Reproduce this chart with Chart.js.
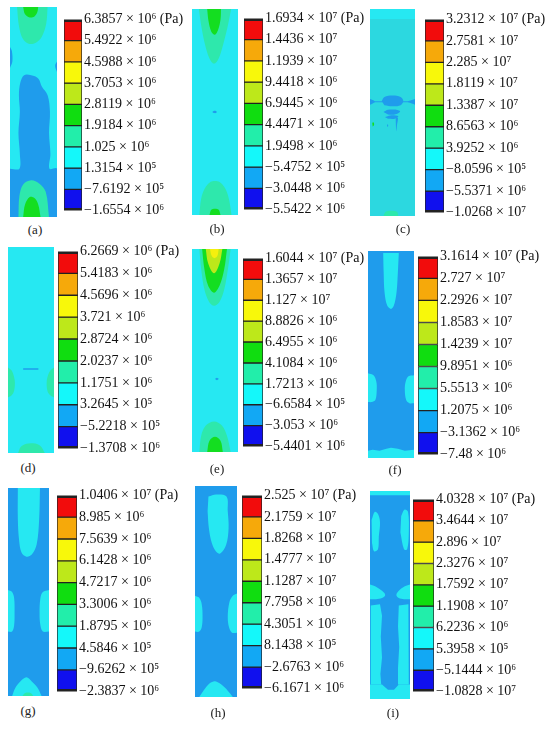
<!DOCTYPE html>
<html>
<head>
<meta charset="utf-8">
<script src="https://cdn.jsdelivr.net/npm/chart.js@4.4.0/dist/chart.umd.min.js"></script>
<style>
  body { margin:0; background:#fff; width:550px; height:729px; position:relative; overflow:hidden;
         font-family:"Liberation Serif","Times New Roman",serif; }
  canvas { position:absolute; }
  .tag { position:absolute; font-size:13px; color:#222; transform:translate(-50%,-50%); }
</style>
</head>
<body>
<script>
// stress levels shown on each colour bar, top to bottom (Pa)
const boundsA = [6.3857e6, 5.4922e6, 4.5988e6, 3.7053e6, 2.8119e6, 1.9184e6, 1.025e6, 1.3154e5, -7.6192e5, -1.6554e6];
const boundsB = [1.6934e7, 1.4436e7, 1.1939e7, 9.4418e6, 6.9445e6, 4.4471e6, 1.9498e6, -5.4752e5, -3.0448e6, -5.5422e6];
const boundsC = [3.2312e7, 2.7581e7, 2.285e7, 1.8119e7, 1.3387e7, 8.6563e6, 3.9252e6, -8.0596e5, -5.5371e6, -1.0268e7];
const boundsD = [6.2669e6, 5.4183e6, 4.5696e6, 3.721e6, 2.8724e6, 2.0237e6, 1.1751e6, 3.2645e5, -5.2218e5, -1.3708e6];
const boundsE = [1.6044e7, 1.3657e7, 1.127e7, 8.8826e6, 6.4955e6, 4.1084e6, 1.7213e6, -6.6584e5, -3.053e6, -5.4401e6];
const boundsF = [3.1614e7, 2.727e7, 2.2926e7, 1.8583e7, 1.4239e7, 9.8951e6, 5.5513e6, 1.2075e6, -3.1362e6, -7.48e6];
const boundsG = [1.0406e7, 8.985e6, 7.5639e6, 6.1428e6, 4.7217e6, 3.3006e6, 1.8795e6, 4.5846e5, -9.6262e5, -2.3837e6];
const boundsH = [2.525e7, 2.1759e7, 1.8268e7, 1.4777e7, 1.1287e7, 7.7958e6, 4.3051e6, 8.1438e5, -2.6763e6, -6.1671e6];
const boundsI = [4.0328e7, 3.4644e7, 2.896e7, 2.3276e7, 1.7592e7, 1.1908e7, 6.2236e6, 5.3958e5, -5.1444e6, -1.0828e7];

// contour regions: band level (0 = lowest .. 8 = highest), outline as x,t pairs
// x 0..1 across the specimen, t 0..1 from top to bottom
const fieldA = [
  {lv:2, flat:true, p:[0,0, 1,0, 1,1, 0,1]},
  {lv:1, p:[0,0.77, 0.2,0.77, 0.21,0.7, 0.18,0.6, 0.21,0.5, 0.19,0.42, 0.22,0.36, 0.3,0.325, 0.45,0.325, 0.6,0.34, 0.68,0.38, 0.8,0.42, 0.85,0.5, 0.83,0.6, 0.86,0.7, 0.84,0.77, 1,0.77, 1,1, 0,1]},
  {lv:1, p:[0,0.19, 0.04,0.21, 0.05,0.26, 0,0.29]},
  {lv:1, p:[1,0.26, 0.96,0.28, 1,0.31]},
  {lv:3, p:[0.15,0, 0.19,0.09, 0.27,0.15, 0.4,0.175, 0.55,0.17, 0.68,0.14, 0.77,0.08, 0.8,0]},
  {lv:4, p:[0.28,0, 0.32,0.035, 0.42,0.05, 0.52,0.045, 0.58,0.025, 0.6,0]},
  {lv:3, p:[0.18,1, 0.2,0.9, 0.28,0.845, 0.45,0.825, 0.62,0.84, 0.76,0.88, 0.83,1]},
  {lv:4, p:[0.28,1, 0.32,0.94, 0.42,0.905, 0.52,0.91, 0.6,0.94, 0.65,1]}
];
const fieldB = [
  {lv:2, flat:true, p:[0,0, 1,0, 1,1, 0,1]},
  {lv:3, p:[0.15,0, 0.2,0.08, 0.28,0.17, 0.38,0.24, 0.48,0.265, 0.58,0.24, 0.68,0.17, 0.78,0.08, 0.85,0]},
  {lv:4, p:[0.33,0, 0.36,0.06, 0.42,0.11, 0.5,0.125, 0.57,0.1, 0.62,0.05, 0.63,0]},
  {lv:3, p:[0.16,1, 0.2,0.92, 0.28,0.87, 0.4,0.84, 0.5,0.835, 0.6,0.84, 0.72,0.87, 0.8,0.92, 0.86,1]},
  {lv:4, p:[0.38,1, 0.42,0.975, 0.5,0.97, 0.58,0.975, 0.62,1]},
  {lv:1, p:[0.44,0.5, 0.47,0.495, 0.52,0.495, 0.54,0.5, 0.52,0.505, 0.47,0.505]}
];
const fieldC = [
  {lv:2, tone:'dim', flat:true, p:[0,0, 1,0, 1,1, 0,1]},
  {lv:2, flat:true, p:[0,0, 1,0, 1,0.048, 0,0.048]},
  {lv:1, flat:true, p:[0,0.446, 1,0.446, 1,0.45, 0,0.45]},
  {lv:1, p:[0.26,0.445, 0.32,0.425, 0.5,0.418, 0.68,0.425, 0.74,0.445, 0.68,0.465, 0.5,0.47, 0.32,0.465]},
  {lv:1, p:[0,0.435, 0.06,0.44, 0.11,0.448, 0.06,0.456, 0,0.462]},
  {lv:1, p:[1,0.435, 0.93,0.44, 0.84,0.448, 0.93,0.456, 1,0.462]},
  {lv:1, p:[0.3,0.497, 0.4,0.487, 0.55,0.486, 0.67,0.495, 0.55,0.51, 0.4,0.51]},
  {lv:1, p:[0.33,0.522, 0.45,0.514, 0.63,0.518, 0.55,0.53, 0.4,0.53]},
  {lv:1, p:[0.57,0.525, 0.62,0.525, 0.6,0.56, 0.585,0.59, 0.575,0.56]},
  {lv:1, p:[0.38,0.558, 0.4,0.558, 0.4,0.568, 0.38,0.568]},
  {lv:4, p:[0.05,0.55, 0.08,0.548, 0.09,0.56, 0.06,0.568]},
  {lv:3, p:[0.3,1, 0.35,0.98, 0.47,0.975, 0.6,0.98, 0.63,1]}
];
const fieldD = [
  {lv:2, flat:true, p:[0,0, 1,0, 1,1, 0,1]},
  {lv:3, p:[0,0.585, 0.08,0.6, 0.13,0.63, 0.15,0.66, 0.13,0.7, 0.08,0.72, 0,0.73]},
  {lv:3, p:[1,0.585, 0.92,0.6, 0.86,0.63, 0.84,0.66, 0.86,0.7, 0.92,0.72, 1,0.73]},
  {lv:1, flat:true, p:[0.33,0.589, 0.66,0.589, 0.66,0.596, 0.33,0.596]},
  {lv:3, p:[0.22,1, 0.28,0.97, 0.4,0.955, 0.55,0.953, 0.7,0.965, 0.8,1]}
];
const fieldE = [
  {lv:2, flat:true, p:[0,0, 1,0, 1,1, 0,1]},
  {lv:3, p:[0.16,0, 0.2,0.1, 0.27,0.2, 0.37,0.26, 0.48,0.28, 0.6,0.26, 0.7,0.2, 0.78,0.1, 0.84,0]},
  {lv:4, p:[0.22,0, 0.27,0.1, 0.35,0.18, 0.48,0.215, 0.6,0.18, 0.7,0.1, 0.76,0]},
  {lv:5, p:[0.3,0, 0.35,0.07, 0.48,0.12, 0.6,0.07, 0.66,0]},
  {lv:6, p:[0.39,0, 0.43,0.035, 0.49,0.045, 0.55,0.035, 0.58,0]},
  {lv:3, p:[0.16,1, 0.2,0.92, 0.3,0.87, 0.48,0.85, 0.65,0.87, 0.76,0.92, 0.84,1]},
  {lv:4, p:[0.33,1, 0.38,0.945, 0.5,0.925, 0.62,0.945, 0.67,1]},
  {lv:1, p:[0.5,0.64, 0.54,0.634, 0.58,0.64, 0.54,0.646]}
];
const fieldF = [
  {lv:1, flat:true, p:[0,0, 1,0, 1,1, 0,1]},
  {lv:2, p:[0.33,0.01, 0.34,0.1, 0.36,0.2, 0.42,0.265, 0.5,0.28, 0.56,0.265, 0.62,0.2, 0.65,0.1, 0.67,0.01]},
  {lv:2, p:[0,0.59, 0.12,0.6, 0.18,0.63, 0.19,0.67, 0.16,0.72, 0.08,0.73, 0,0.73]},
  {lv:2, p:[1,0.6, 0.88,0.605, 0.82,0.63, 0.8,0.67, 0.83,0.72, 0.9,0.735, 1,0.735]},
  {lv:2, flat:true, p:[0,0.965, 0.1,0.96, 0.25,0.965, 0.4,0.955, 0.5,0.95, 0.65,0.955, 0.8,0.965, 1,0.96, 1,1, 0,1]}
];
const fieldG = [
  {lv:1, flat:true, p:[0,0, 1,0, 1,1, 0,1]},
  {lv:2, p:[0.24,0, 0.24,0.15, 0.27,0.25, 0.33,0.31, 0.45,0.33, 0.58,0.32, 0.7,0.27, 0.76,0.15, 0.78,0]},
  {lv:2, p:[0,0.49, 0.1,0.5, 0.15,0.53, 0.16,0.6, 0.15,0.66, 0.1,0.69, 0,0.69]},
  {lv:2, p:[1,0.49, 0.85,0.5, 0.79,0.53, 0.77,0.6, 0.79,0.66, 0.85,0.69, 1,0.69]},
  {lv:2, p:[0.1,1, 0.18,0.96, 0.3,0.93, 0.45,0.91, 0.58,0.93, 0.72,0.96, 0.82,1]},
  {lv:3, p:[0.35,1, 0.42,0.985, 0.55,0.985, 0.62,1]}
];
const fieldH = [
  {lv:1, flat:true, p:[0,0, 1,0, 1,1, 0,1]},
  {lv:2, p:[0.32,0.05, 0.5,0.04, 0.75,0.05, 0.78,0.12, 0.8,0.2, 0.74,0.28, 0.6,0.32, 0.5,0.31, 0.4,0.27, 0.33,0.2, 0.3,0.12]},
  {lv:2, p:[0,0.52, 0.1,0.53, 0.16,0.56, 0.18,0.62, 0.16,0.67, 0.1,0.69, 0,0.69]},
  {lv:2, p:[1,0.51, 0.9,0.52, 0.82,0.55, 0.78,0.62, 0.81,0.67, 0.88,0.695, 1,0.695]},
  {lv:2, p:[0.1,1, 0.2,0.97, 0.35,0.935, 0.48,0.925, 0.62,0.94, 0.78,0.97, 0.9,1]}
];
const fieldI = [
  {lv:1, flat:true, p:[0,0, 1,0, 1,1, 0,1]},
  {lv:2, flat:true, p:[0,0, 1,0, 1,0.02, 0,0.02]},
  {lv:2, p:[0.04,0.14, 0.12,0.1, 0.2,0.11, 0.25,0.15, 0.22,0.22, 0.2,0.28, 0.1,0.29, 0.05,0.25]},
  {lv:2, p:[0.78,0.12, 0.86,0.09, 0.95,0.1, 0.97,0.2, 0.93,0.28, 0.85,0.28, 0.76,0.2]},
  {lv:2, p:[0,0.45, 0.15,0.46, 0.3,0.48, 0.38,0.5, 0.3,0.515, 0.15,0.52, 0,0.52]},
  {lv:2, p:[1,0.45, 0.85,0.46, 0.72,0.48, 0.66,0.5, 0.72,0.515, 0.85,0.52, 1,0.52]},
  {lv:2, flat:true, p:[0.02,0.55, 0.25,0.545, 0.3,0.6, 0.27,0.7, 0.3,0.8, 0.26,0.88, 0.28,0.93, 0.02,0.93]},
  {lv:2, flat:true, p:[0.72,0.55, 0.96,0.545, 0.97,0.93, 0.72,0.93, 0.7,0.85, 0.73,0.75, 0.7,0.65]},
  {lv:2, flat:true, p:[0,0.93, 0.3,0.93, 0.45,0.955, 0.6,0.955, 0.72,0.93, 1,0.93, 1,1, 0,1]}
];

// colours, lowest band first
const BAR_COLORS = ['#1010ee', '#12a8f4', '#14f8fa', '#22eeaa', '#10dd10', '#bde81a', '#f8f80a', '#f6a90a', '#f20c0c'];
const FIELD_COLORS = ['#1414e8', '#1f9cec', '#26e8f2', '#2ee8ac', '#14de20', '#bde81a', '#f5f00e', '#f6a90a', '#f20c0c'];
const DIM_CYAN = '#2cd8e0';

// page layout: field box [x,y,w,h], bar box [x,y,w,h], tag centre [x,y]
const panels = [
  {tag:'(a)', bounds:boundsA, field:fieldA, fbox:[10,7,47,210],   bbox:[64,19,18,192],  tpos:[35,230]},
  {tag:'(b)', bounds:boundsB, field:fieldB, fbox:[192,9,46,206],  bbox:[244,18,19,192], tpos:[217,229]},
  {tag:'(c)', bounds:boundsC, field:fieldC, fbox:[370,9,45,207],  bbox:[425,19,19,194], tpos:[403,229]},
  {tag:'(d)', bounds:boundsD, field:fieldD, fbox:[8,247,46,206],  bbox:[58,251,20,198], tpos:[28,468]},
  {tag:'(e)', bounds:boundsE, field:fieldE, fbox:[192,249,46,203],bbox:[243,258,20,189],tpos:[217,469]},
  {tag:'(f)', bounds:boundsF, field:fieldF, fbox:[368,251,46,207],bbox:[418,256,20,199],tpos:[395,470]},
  {tag:'(g)', bounds:boundsG, field:fieldG, fbox:[8,488,41,208],  bbox:[57,495,20,197], tpos:[28,711]},
  {tag:'(h)', bounds:boundsH, field:fieldH, fbox:[195,486,42,211],bbox:[242,495,20,194],tpos:[218,713]},
  {tag:'(i)', bounds:boundsI, field:fieldI, fbox:[370,491,40,208],bbox:[413,499,21,193],tpos:[393,713]}
];

const AXIS_W = 120;
const PAD = 10;
const SUP = {4:'\u2074', 5:'\u2075', 6:'\u2076', 7:'\u2077', 8:'\u2078'};

function fmt(v) {
  const a = Math.abs(v);
  const e = Math.floor(Math.log10(a) + 1e-9);
  const m = parseFloat((a / Math.pow(10, e)).toPrecision(5));
  return (v < 0 ? '\u2212' : '') + m + ' \u00d7 10' + SUP[e];
}

function toPts(flat) {
  const out = [];
  for (let k = 0; k < flat.length; k += 2) out.push({x: flat[k], y: flat[k + 1]});
  return out;
}

function makeCanvas(x, y, w, h) {
  const cv = document.createElement('canvas');
  cv.width = w; cv.height = h;
  cv.style.left = x + 'px'; cv.style.top = y + 'px';
  document.body.appendChild(cv);
  return cv;
}

const common = {
  animation: false, responsive: false, events: [],
  plugins: {legend: {display: false}, tooltip: {enabled: false}}
};

panels.forEach(p => {
  // contour field; later regions sit on top (lower order draws last)
  const [fx, fy, fw, fh] = p.fbox;
  const n = p.field.length;
  new Chart(makeCanvas(fx, fy, fw, fh), {
    type: 'line',
    data: {
      datasets: p.field.map((s, i) => {
        const col = s.tone === 'dim' ? DIM_CYAN : FIELD_COLORS[s.lv];
        return {
          data: toPts(s.p), fill: 'shape', backgroundColor: col, borderColor: col,
          borderWidth: 0, pointRadius: 0, tension: s.flat ? 0 : 0.35, order: n - i
        };
      })
    },
    options: {
      ...common,
      layout: {padding: 0},
      scales: {
        x: {type: 'linear', min: 0, max: 1, display: false},
        y: {type: 'linear', min: 0, max: 1, reverse: true, display: false}
      }
    }
  });

  // colour bar with level labels
  const b = p.bounds;
  const top = b[0], bottom = b[b.length - 1];
  const [bx, by, bw, bh] = p.bbox;
  const segs = [];
  for (let k = 0; k < b.length - 1; k++) {
    const lv = b.length - 2 - k;
    let bwid = 1;
    if (k === 0) bwid = {top: 3, left: 1, right: 1, bottom: 1};
    if (k === b.length - 2) bwid = {top: 1, left: 1, right: 1, bottom: 3};
    segs.push({
      data: [[b[k + 1], b[k]]], backgroundColor: BAR_COLORS[lv], borderColor: '#222',
      borderWidth: bwid, borderSkipped: false, grouped: false,
      barPercentage: 1, categoryPercentage: 1
    });
  }
  new Chart(makeCanvas(bx, by - PAD, bw + AXIS_W, bh + 2 * PAD), {
    type: 'bar',
    data: {labels: [''], datasets: segs},
    options: {
      ...common,
      layout: {padding: {top: PAD, bottom: PAD, left: 0, right: 0}},
      scales: {
        x: {display: false},
        y: {
          position: 'right', min: bottom, max: top,
          afterBuildTicks: s => { s.ticks = b.map(v => ({value: v})); },
          afterFit: s => { s.width = AXIS_W; },
          grid: {display: false, drawTicks: false},
          border: {display: false},
          ticks: {
            padding: 2, color: '#111', autoSkip: false,
            font: {family: 'Liberation Serif', size: 14},
            callback: v => fmt(v) + (v === top ? ' (Pa)' : '')
          }
        }
      }
    }
  });

  const t = document.createElement('div');
  t.className = 'tag';
  t.textContent = p.tag;
  t.style.left = p.tpos[0] + 'px';
  t.style.top = p.tpos[1] + 'px';
  document.body.appendChild(t);
});
</script>
</body>
</html>
